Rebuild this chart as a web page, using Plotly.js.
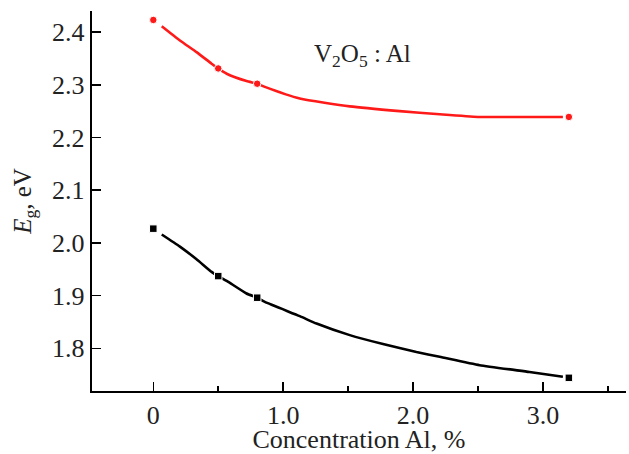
<!DOCTYPE html>
<html>
<head>
<meta charset="utf-8">
<script src="https://cdn.plot.ly/plotly-3.0.1.min.js"></script>
<style>
html,body{margin:0;padding:0;background:#fff;}
#chart{width:629px;height:454px;}
</style>
</head>
<body>
<div id="chart"></div>
<script>
// Measured points (markers)
const conc = [0, 0.5, 0.8, 3.2];
const egRed = [2.423, 2.331, 2.302, 2.239];
const egBlack = [2.027, 1.937, 1.896, 1.744];

// Fitted curves
const curveRedX = [0.065, 0.205, 0.333, 0.449, 0.5, 0.565, 0.718, 0.8, 0.859, 1.128, 1.513, 1.897, 2.205, 2.5, 2.9, 3.154];
const curveRedY = [2.411, 2.384, 2.362, 2.340, 2.331, 2.321, 2.307, 2.302, 2.296, 2.274, 2.259, 2.250, 2.244, 2.239, 2.239, 2.239];
const curveBlackX = [0.065, 0.205, 0.333, 0.449, 0.5, 0.565, 0.718, 0.8, 0.859, 1.128, 1.257, 1.513, 1.769, 2.026, 2.205, 2.513, 2.897, 3.154];
const curveBlackY = [2.016, 1.993, 1.969, 1.945, 1.937, 1.928, 1.904, 1.896, 1.888, 1.861, 1.847, 1.825, 1.808, 1.793, 1.784, 1.768, 1.755, 1.746];

const xTickVals = [0, 1, 2, 3];
const xTickText = ["0", "1.0", "2.0", "3.0"];
const yTickVals = [1.8, 1.9, 2.0, 2.1, 2.2, 2.3, 2.4];
const yTickText = ["1.8", "1.9", "2.0", "2.1", "2.2", "2.3", "2.4"];

const RED = "#ff1a1a";
const BLACK = "#000000";
const FONT = "Liberation Serif";
const TXT = "#222";

const traces = [
  {x: curveRedX, y: curveRedY, mode: "lines", line: {color: RED, width: 2.6, shape: "spline", smoothing: 0.5}},
  {x: curveBlackX, y: curveBlackY, mode: "lines", line: {color: BLACK, width: 2.6, shape: "spline", smoothing: 0.5}},
  {x: conc, y: egRed, mode: "markers", marker: {color: RED, size: 7.5, symbol: "circle", line: {color: "#fff", width: 1}}},
  {x: conc, y: egBlack, mode: "markers", marker: {color: BLACK, size: 7.5, symbol: "square", line: {color: "#fff", width: 1}}}
];

const layout = {
  width: 629, height: 454,
  margin: {l: 92, r: 3, t: 11, b: 63},
  showlegend: false,
  font: {family: FONT, color: TXT, size: 24},
  xaxis: {
    range: [-0.472, 3.64],
    showgrid: false, zeroline: false,
    showline: true, linecolor: "#000", linewidth: 2.2,
    ticks: "inside", ticklen: 9, tickwidth: 1.5, tickcolor: "#000",
    tickvals: xTickVals, ticktext: xTickText,
    tickfont: {family: FONT, size: 26, color: TXT},
    minor: {tickvals: [0.5, 1.5, 2.5, 3.5], ticks: "inside", ticklen: 5, tickwidth: 1.5, tickcolor: "#000"},
    title: {text: "Concentration Al, %", font: {family: FONT, size: 26, color: TXT}}
  },
  yaxis: {
    range: [1.719, 2.44],
    showgrid: false, zeroline: false,
    showline: true, linecolor: "#000", linewidth: 2.2,
    ticks: "inside", ticklen: 9, tickwidth: 1.5, tickcolor: "#000",
    tickvals: yTickVals, ticktext: yTickText,
    tickfont: {family: FONT, size: 26, color: TXT},
    title: {text: "<i>E</i><sub>g</sub>, eV", font: {family: FONT, size: 25, color: TXT}}
  },
  annotations: [
    {xref: "paper", yref: "paper", x: 0.506, y: 0.93, showarrow: false,
     text: "V<sub>2</sub>O<sub>5</sub> : Al", font: {family: FONT, size: 25, color: TXT}}
  ]
};

Plotly.newPlot("chart", traces, layout, {displayModeBar: false, staticPlot: true}).then(function(){
  document.querySelectorAll('#chart .xtick text, #chart .ytick text').forEach(function(t){
    t.style.setProperty('font-family', "'Liberation Serif', serif", 'important');
    t.style.setProperty('font-size', '26px', 'important');
  });
});
</script>
</body>
</html>
